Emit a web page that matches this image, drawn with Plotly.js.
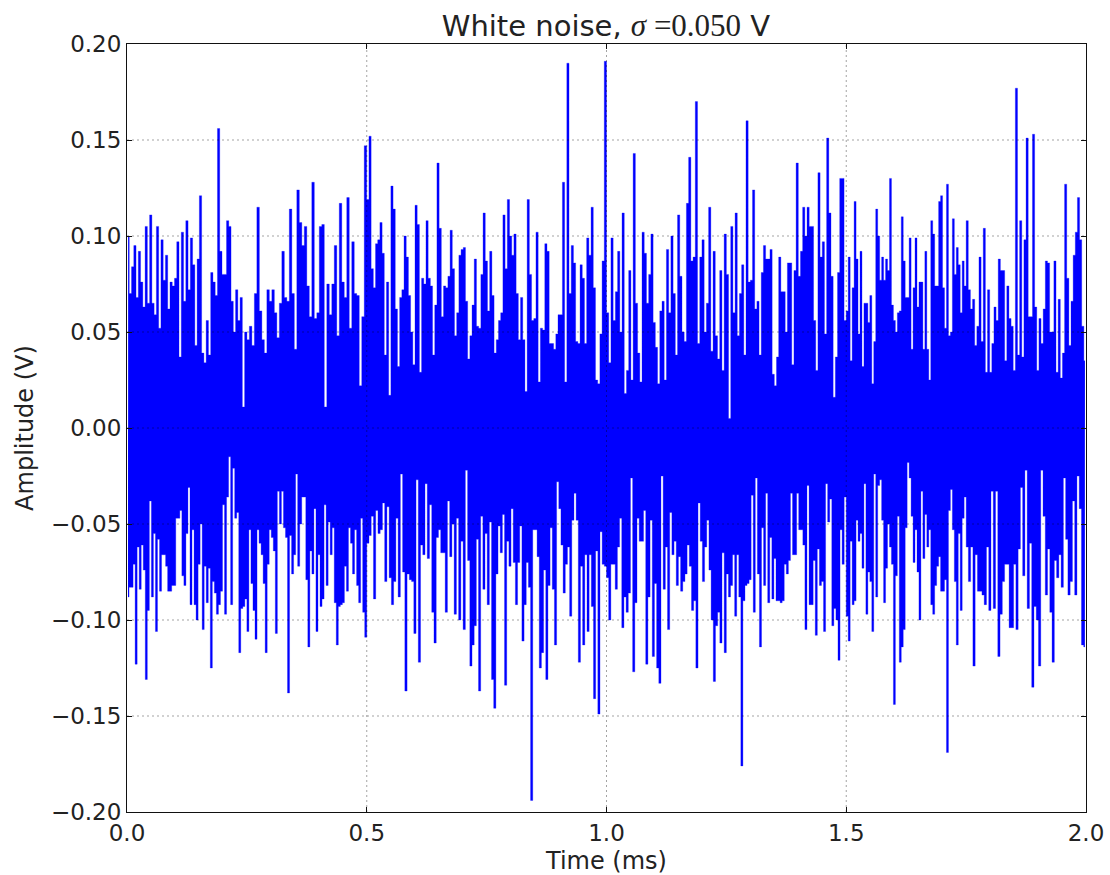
<!DOCTYPE html>
<html>
<head>
<meta charset="utf-8">
<script src="https://cdn.plot.ly/plotly-3.0.1.min.js"></script>
<style>html,body{margin:0;padding:0;background:#fff}#plot{width:1110px;height:875px}</style>
</head>
<body>
<div id="plot"></div>
<script>
// Upper and lower outline of the noise band, in millivolts.
var segmentEdges = [0, 0.25, 0.5, 0.715, 1.0, 1.25, 1.5, 1.75, 2.0];

var upper0 = [100,70,84,95,68,92,76,63,105,65,111,65,59,105,52,98,77,90,62,76,74,78,97,37,102,66,108,72,99,85,43,88,121,39,34,56,38,81,76,69,156,92,80,80,108,105,66,50,72,56,68,11,50];
var upper1 = [46,53,43,70,115,61,46,39,72,66,72,60,47,65,92,68,66,114,70,41,124,107,95,105,74,58,128,57,60,105,106,11,75,59,75,95,48,117,76,68,120,52,97,70,69,22,58,147];
var upper2 = [119,152,83,73,96,98,107,91,38,76,17,126,114,62,32,68,72,100,89,69,50,33,116,106,29,78,75,108,78,74,38,64,138,104,58,74,73,79,103,83,48,60,90,93,94,66,36];
var upper3 = [48,64,88,53,52,80,112,87,61,92,69,39,46,56,60,111,83,119,100,90,101,70,46,68,46,19,119,80,56,57,102,24,52,51,96,92,44,44,41,49,59,59,128,24,190,70,95,86,45,44,85,78,44,99,90,115,73,25,23,49,87,191];
var upper4 = [60,34,99,56,71,92,50,112,18,30,82,25,143,65,39,24,102,91,65,80,101,55,42,23,61,66,25,93,60,100,70,38,111,79,50,45,117,141,87,89,170,44,89,98,50,65,115,40,92,48,36,82,30,101];
var upper5 = [80,5,105,60,112,48,70,85,38,160,76,77,124,62,66,38,81,95,88,88,93,28,22,37,89,71,71,50,86,86,33,82,138,79,92,115,100,115,105,105,56,30,133,89,97,49,151,112,79,16,37,81,130,130,56];
var upper6 = [61,89,35,73,118,88,49,92,32,65,65,55,69,23,45,114,100,77,89,77,88,82,130,64,56,50,60,61,110,87,68,68,99,41,73,99,63,76,76,41,92,41,25,108,101,74,74,118,121,73,52,127,48,50,109,80,94,85,60,87,74];
var upper7 = [108,72,62,67,43,53,89,45,104,29,72,29,44,63,56,88,82,82,35,74,57,53,30,177,38,108,37,98,151,58,58,153,63,30,57,44,62,87,86,50,50,87,29,67,26,39,127,78,43,66,90,102,120,98,53,35];

var lower0 = [88,83,83,71,123,62,84,61,74,131,95,38,88,55,106,58,85,66,66,72,85,85,82,82,47,47,43,77,82,55,31,92,53,92,100,71,50,105,72,91,73,125,80,86,97,92,85,40,97,36,15,92,21,47,44,117,94,93,89];
var lower1 = [106,53,81,95,110,53,60,66,81,117,71,53,57,64,107,33,50,33,52,57,138,56,76,66,24,72,50,36,36,79,114,64,76,42,106,66,93,89,40,82,49,66,52,91,113,93,92,91,72,85,52,60,76,53,82,91,47,96,109];
var lower2 = [60,56,46,89,43,55,53,39,80,41,78,92,80,47,88,24,75,137,76,79,80,107,27,122,61,66,29,68,40,96,112,57,53,65,65,96,38,67,50,97,47,100,59,105,22,69];
var lower3 = [124,113,103,58,137,46,84,55,92,49,131,146,76,51,65,45,134,59,72,42,70,92,70,51,111,92,70,83,194,53,53,67,125,117,74,131,82,52,84,113,28,42,61,86,71,62,98,48,34,48,122,72,113,66,106,66,93,141,64,149,54,71,72];
var lower4 = [78,100,71,71,84,62,47,104,88,96,86,26,127,91,47,59,59,43,123,88,48,119,81,125,133,25,84,62,105,44,66,59,82,67,85,80,76,61,72,95,90,125,39,59,80,62,48,74,100,132,103,96,112,65,117];
var lower5 = [76,88,82,66,98,66,88,176,90,82,81,79,35,96,26,76,114,52,82,34,91,57,89,68,90,90,91,90,71,76,69,34,66,66,34,53,53,61,105,30,92,92,69,108,63,82,80,106,29,49,37,103,94,100,121,53,71,36];
var lower6 = [98,111,59,92,90,48,59,55,73,29,97,75,80,106,24,88,30,27,48,91,73,50,62,71,144,77,46,122,114,105,52,18,26,46,70,53,75,100,33,68,45,62,53,92,97,82,72,67,85,85,79,169,43,32,53,80,113,55,95,47,36];
var lower7 = [62,80,62,124,66,85,85,87,92,62,95,33,94,33,119,97,80,71,71,104,104,71,105,63,31,77,22,94,60,135,93,100,124,22,46,87,63,96,122,69,78,66,83,26,58,87,80,38,87,25,42,113,114];

var upperSegments = [upper0, upper1, upper2, upper3, upper4, upper5, upper6, upper7];
var lowerSegments = [lower0, lower1, lower2, lower3, lower4, lower5, lower6, lower7];

var xTicks = [0, 0.5, 1.0, 1.5, 2.0];
var yTicks = [-0.20, -0.15, -0.10, -0.05, 0, 0.05, 0.10, 0.15, 0.20];
var titleText = 'White noise, <span style="font-family:\'Liberation Serif\',serif;font-size:31px"><i>σ</i> =0.050</span> V';
var xLabel = 'Time (ms)';
var yLabel = 'Amplitude (V)';

// The outline is filled back to zero, so the band is solid and only its spikes and slits show.
function buildTrace(segments, sign) {
  var xs = [], ys = [];
  segments.forEach(function (seg, s) {
    var t0 = segmentEdges[s], step = (segmentEdges[s + 1] - t0) / seg.length;
    seg.forEach(function (mv, i) {
      xs.push(t0 + (i + 0.5) * step); ys.push(sign * mv / 1000);
    });
  });
  return { x: xs, y: ys, type: 'scatter', mode: 'lines', hoverinfo: 'skip', fill: 'tozeroy',
           fillcolor: '#0000ff', line: { color: '#0000ff', width: 0.3, shape: 'hvh' } };
}

var gridStyle = { color: 'rgba(0,0,0,0.36)', width: 1, dash: '2px,3px' };
var shapes = [];
xTicks.slice(1, -1).forEach(function (t) {
  shapes.push({ type: 'line', xref: 'x', yref: 'paper', x0: t, x1: t, y0: 0, y1: 1, line: gridStyle, layer: 'above' });
});
yTicks.slice(1, -1).forEach(function (v) {
  shapes.push({ type: 'line', xref: 'paper', yref: 'y', x0: 0, x1: 1, y0: v, y1: v, line: gridStyle, layer: 'above' });
});

var baseFont = { family: 'DejaVu Sans, sans-serif', color: '#222' };
function axisCommon() {
  return { showgrid: false, zeroline: false, showline: true, linecolor: '#111', linewidth: 1,
           mirror: 'ticks', ticks: 'inside', ticklen: 5, tickwidth: 1, tickcolor: '#111',
           tickmode: 'array', tickfont: { family: baseFont.family, color: baseFont.color, size: 23 } };
}
var xaxis = axisCommon();
xaxis.range = [0, 2]; xaxis.tickvals = xTicks; xaxis.tickformat = '.1f';
xaxis.title = { text: xLabel, font: { family: baseFont.family, color: baseFont.color, size: 24 }, standoff: 9 };
var yaxis = axisCommon();
yaxis.range = [-0.2, 0.2]; yaxis.tickvals = yTicks; yaxis.tickformat = '.2f';
yaxis.title = { text: yLabel, font: { family: baseFont.family, color: baseFont.color, size: 24 }, standoff: 10 };

Plotly.newPlot('plot',
  [buildTrace(upperSegments, 1), buildTrace(lowerSegments, -1)],
  { width: 1110, height: 875, showlegend: false, paper_bgcolor: '#fff', plot_bgcolor: '#fff',
    margin: { l: 127, r: 24, t: 44, b: 63, pad: 0 },
    title: { text: titleText, font: { family: baseFont.family, color: baseFont.color, size: 29 },
             x: 0.5459, xanchor: 'center', y: 0.971, yanchor: 'middle' },
    xaxis: xaxis, yaxis: yaxis, shapes: shapes },
  { displayModeBar: false, responsive: false, staticPlot: true });
</script>
</body>
</html>
